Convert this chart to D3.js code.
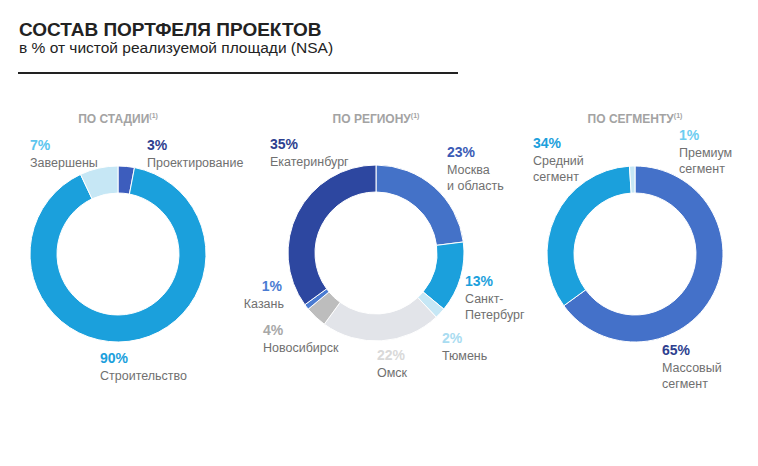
<!DOCTYPE html>
<html><head><meta charset="utf-8">
<script src="https://cdn.jsdelivr.net/npm/d3@7"></script>
<style>
html,body{margin:0;padding:0;background:#fff;}
svg{display:block;font-family:"Liberation Sans",Arial,sans-serif;}
</style></head>
<body>
<svg id="chart" width="758" height="466"></svg>
<script>
// ---- data ----
const titleText = "СОСТАВ ПОРТФЕЛЯ ПРОЕКТОВ";
const subtitleText = "в % от чистой реализуемой площади (NSA)";
const panelTitles = ["ПО СТАДИИ", "ПО РЕГИОНУ", "ПО СЕГМЕНТУ"];

const stageCategories = ["Проектирование", "Строительство", "Завершены"];
const stageValues = [3, 90, 7];

const regionCategories = ["Москва\nи область", "Санкт-\nПетербург", "Тюмень", "Омск", "Новосибирск", "Казань", "Екатеринбург"];
const regionValues = [23, 13, 2, 22, 4, 1, 35];

const segmentCategories = ["Массовый\nсегмент", "Средний\nсегмент", "Премиум\nсегмент"];
const segmentValues = [65, 34, 1];

// ---- styles / layout ----
const stageColors = ["#3d5dbd", "#1ba0dc", "#c6e7f5"];
const stagePctColors = ["#2e3f8f", "#1ba0dc", "#5cc5ee"];
const regionColors = ["#4472c8", "#1ba0dc", "#c6e7f5", "#e2e4e9", "#bdbdbd", "#4a7bd2", "#2d47a0"];
const regionPctColors = ["#3a5ab5", "#1ba0dc", "#a9dcf1", "#d9d9d9", "#a8a8a8", "#4a7bd2", "#2e3f8f"];
const segmentColors = ["#4471c9", "#1ba0dc", "#c6e7f5"];
const segmentPctColors = ["#2e3f8f", "#1ba0dc", "#6dcdf1"];

// label anchor positions (absolute), anchor
const stageLabelPos = [[147,150,"start"],[100,363,"start"],[30,150,"start"]];
const regionLabelPos = [[447,157,"start"],[465,286,"start"],[442,343,"start"],[377,360,"start"],[263,335,"start"],[282,291,"end"],[270,149,"start"]];
const segmentLabelPos = [[662,355,"start"],[533,148,"start"],[679,140,"start"]];

const svg = d3.select("#chart");
const textGray = "#707070";

// title
svg.append("text").attr("x", 19).attr("y", 36).attr("font-size", 19).attr("font-weight", "bold")
  .attr("fill", "#222").text(titleText);
svg.append("text").attr("x", 19).attr("y", 53).attr("font-size", 15.5).attr("fill", "#222").text(subtitleText);
svg.append("line").attr("x1", 18).attr("x2", 458).attr("y1", 73).attr("y2", 73)
  .attr("stroke", "#222").attr("stroke-width", 2);

const R = 88, r = 61;
const panels = [
  {cx:118, cy:254, title:panelTitles[0], cats:stageCategories, vals:stageValues, colors:stageColors, pct:stagePctColors, pos:stageLabelPos},
  {cx:376, cy:253, title:panelTitles[1], cats:regionCategories, vals:regionValues, colors:regionColors, pct:regionPctColors, pos:regionLabelPos},
  {cx:635, cy:254, title:panelTitles[2], cats:segmentCategories, vals:segmentValues, colors:segmentColors, pct:segmentPctColors, pos:segmentLabelPos}
];

const pie = d3.pie().sort(null).value(d => d);
const arc = d3.arc().innerRadius(r).outerRadius(R);

panels.forEach(p => {
  // panel title
  const t = svg.append("text").attr("x", p.cx).attr("y", 123).attr("text-anchor", "middle")
    .attr("font-size", 12).attr("font-weight", "bold").attr("fill", "#a3a3a3");
  t.append("tspan").text(p.title);
  t.append("tspan").attr("font-size", 7).attr("dy", -5).text("(1)");

  const g = svg.append("g").attr("transform", `translate(${p.cx},${p.cy})`);
  g.selectAll("path").data(pie(p.vals)).join("path")
    .attr("d", arc).attr("fill", (d, i) => p.colors[i])
    .attr("stroke", "#fff").attr("stroke-width", 1);

  p.cats.forEach((c, i) => {
    const [x, y, anchor] = p.pos[i];
    svg.append("text").attr("x", x).attr("y", y).attr("text-anchor", anchor)
      .attr("font-size", 14).attr("font-weight", "bold").attr("fill", p.pct[i])
      .text(p.vals[i] + "%");
    c.split("\n").forEach((line, j) => {
      svg.append("text").attr("x", anchor === "end" ? x + 2 : x).attr("y", y + 16.5 + j * 16.5)
        .attr("text-anchor", anchor).attr("font-size", 12.5).attr("fill", textGray).text(line);
    });
  });
});
</script>
</body></html>
